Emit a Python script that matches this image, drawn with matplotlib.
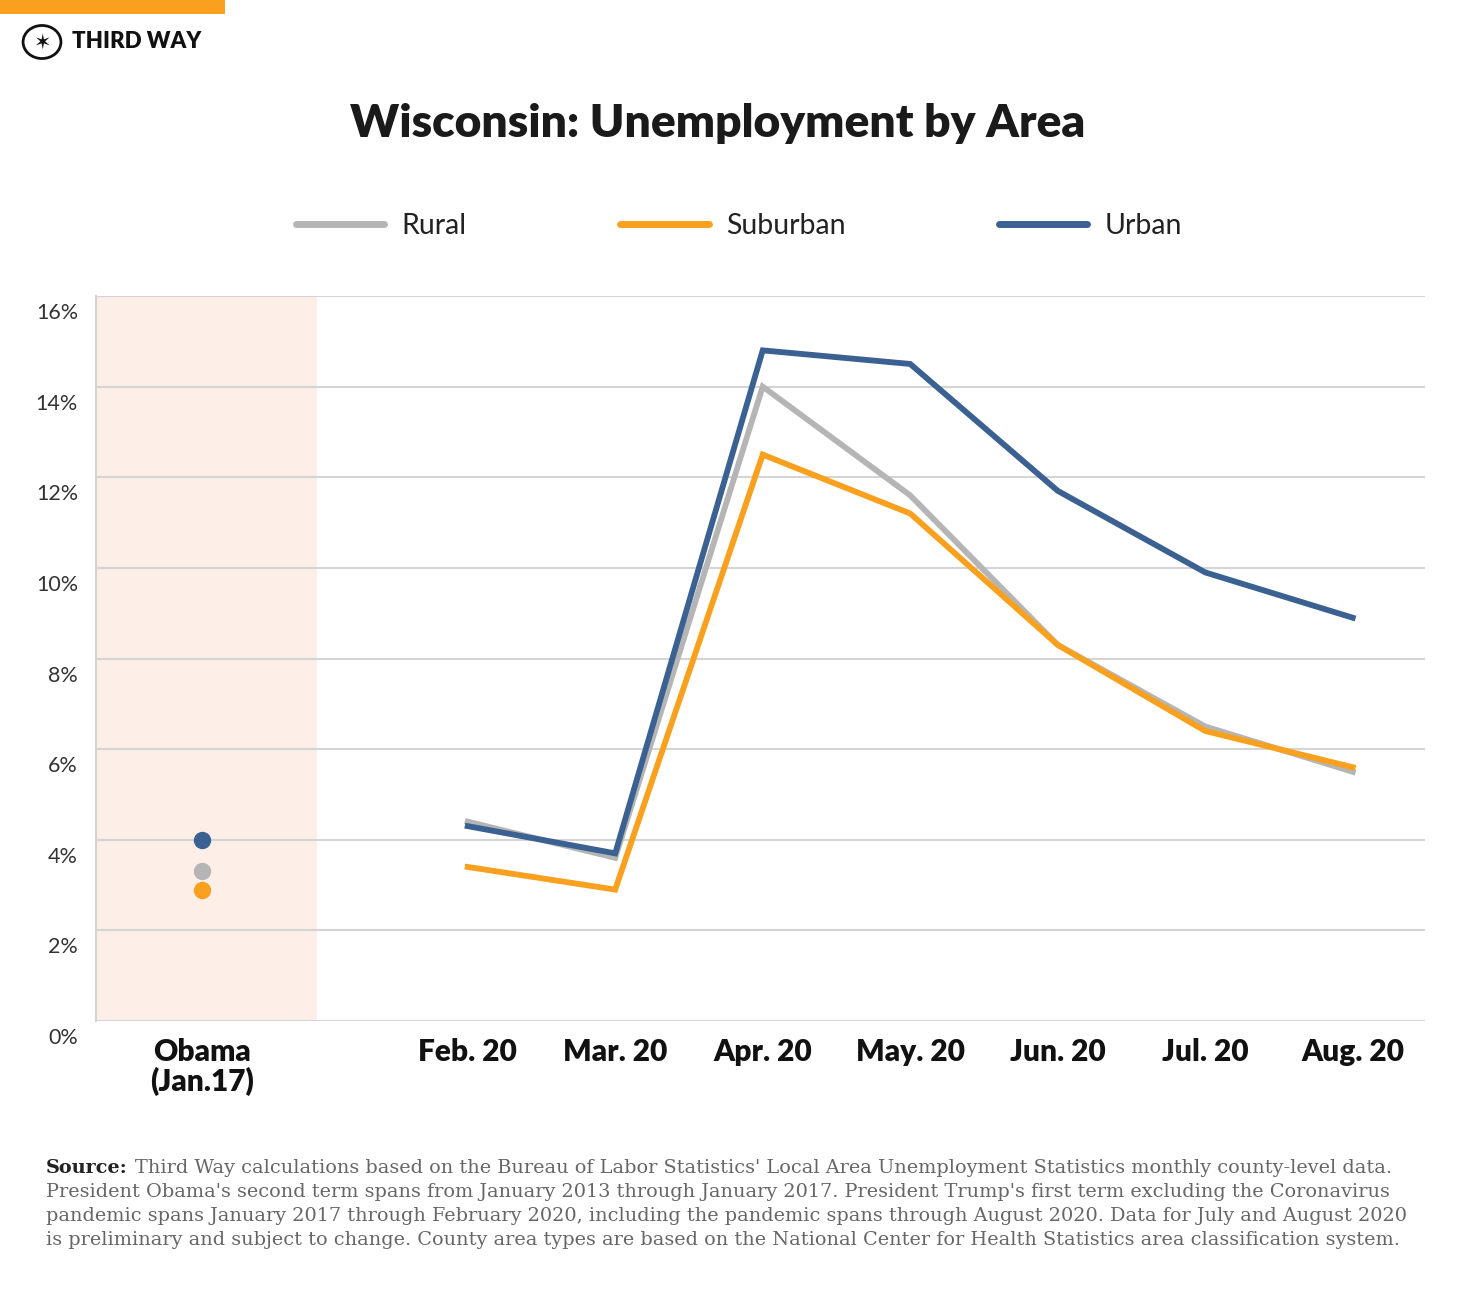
import numpy as np
import matplotlib.pyplot as plt
from matplotlib.patches import Rectangle, Circle
import matplotlib.transforms as mtransforms

# Data
months = ['Feb. 20', 'Mar. 20', 'Apr. 20', 'May. 20', 'Jun. 20', 'Jul. 20', 'Aug. 20']
rural = [4.4, 3.6, 14.0, 11.6, 8.3, 6.5, 5.5]
suburban = [3.4, 2.9, 12.5, 11.2, 8.3, 6.4, 5.6]
urban = [4.3, 3.7, 14.8, 14.5, 11.7, 9.9, 8.9]

obama_label = 'Obama\n(Jan.17)'
obama_rural = 3.3
obama_suburban = 2.9
obama_urban = 4.0

yticks = [0, 2, 4, 6, 8, 10, 12, 14, 16]

c_rural = '#B5B5B5'
c_sub = '#F9A11F'
c_urb = '#3B6192'
c_grid = '#D4D4D4'

fig = plt.figure(figsize=(14.8, 12.91), dpi=100)
ax = fig.add_axes([96 / 1480, 1 - 1021 / 1291, (1425 - 96) / 1480, (1021 - 296) / 1291])

x = np.arange(len(months))
x_obama = -1.8

# shaded Obama band
ax.axvspan(-2.52, -1.02, color='#FDEEE8', zorder=0, lw=0)

for y in yticks:
    ax.axhline(y, color=c_grid, lw=1.5, zorder=1)

lw = 4.2
l1, = ax.plot(x, rural, color=c_rural, lw=lw, label='Rural', zorder=3, solid_joinstyle='miter')
l2, = ax.plot(x, suburban, color=c_sub, lw=lw, label='Suburban', zorder=4, solid_joinstyle='miter')
l3, = ax.plot(x, urban, color=c_urb, lw=lw, label='Urban', zorder=5, solid_joinstyle='miter')

ax.plot([x_obama], [obama_urban], 'o', color=c_urb, ms=11.5, zorder=5)
ax.plot([x_obama], [obama_rural], 'o', color=c_rural, ms=11.5, zorder=5)
ax.plot([x_obama], [obama_suburban], 'o', color=c_sub, ms=11.5, zorder=6)

ax.set_xlim(-2.52, 6.49)
ax.set_ylim(0, 16)

for s in ['top', 'right', 'bottom']:
    ax.spines[s].set_visible(False)
ax.spines['left'].set_color(c_grid)
ax.spines['left'].set_linewidth(1.5)

ax.set_yticks(yticks)
ax.set_yticklabels([f'{v}%' for v in yticks], fontsize=15.5, color='#333333', family='Lato')
ax.tick_params(axis='y', length=0, pad=13)
offset = mtransforms.ScaledTranslation(0, -15 / 100, fig.dpi_scale_trans)
for lab in ax.get_yticklabels():
    lab.set_transform(lab.get_transform() + offset)

ax.set_xticks(list(x) + [x_obama])
ax.set_xticklabels(months + [obama_label], fontsize=21.5, fontweight='heavy', family='Lato',
                   color='#111111', va='top', linespacing=1.05)
ax.tick_params(axis='x', length=0, pad=12)

leg = ax.legend(handles=[l1, l2, l3], loc='center', bbox_to_anchor=(739 / 1480, 1 - 226 / 1291),
                bbox_transform=fig.transFigure, ncol=3, frameon=False, handlelength=3.1,
                handletextpad=0.6, columnspacing=5.4, prop={'family': 'Lato', 'size': 20.5})
for h in leg.legend_handles:
    h.set_linewidth(5)
    h.set_solid_capstyle('round')
for t in leg.get_texts():
    t.set_color('#222222')

fig.text(718 / 1480, 1 - 124 / 1291, 'Wisconsin: Unemployment by Area', ha='center', va='center',
         fontsize=33.3, fontweight='heavy', family='Lato', color='#1a1a1a')

# header branding
fig.patches.append(Rectangle((0, 1 - 14 / 1291), 225 / 1480, 14 / 1291, transform=fig.transFigure,
                             color='#F9A11F', lw=0))
fig.patches.append(Circle((42 / 1480, 1 - 42 / 1291), 0.0128, transform=fig.transFigure,
                          fill=False, ec='#111111', lw=2))
fig.text(42 / 1480, 1 - 43 / 1291, '✶', ha='center', va='center', fontsize=15, color='#111111',
         family='DejaVu Sans')
fig.text(72 / 1480, 1 - 42 / 1291, 'THIRD WAY', ha='left', va='center', fontsize=16,
         fontweight='heavy', family='Lato', color='#111111')

# source note
src_lines = [
    "Third Way calculations based on the Bureau of Labor Statistics' Local Area Unemployment Statistics monthly county-level data.",
    "President Obama's second term spans from January 2013 through January 2017. President Trump's first term excluding the Coronavirus",
    "pandemic spans January 2017 through February 2020, including the pandemic spans through August 2020. Data for July and August 2020",
    "is preliminary and subject to change. County area types are based on the National Center for Health Statistics area classification system.",
]
y0 = 1168
src_font = dict(fontsize=13.85, family='DejaVu Serif')
t0 = fig.text(46 / 1480, 1 - y0 / 1291, 'Source:', ha='left', va='center', fontweight='bold',
              color='#222222', **src_font)
fig.canvas.draw()
bb = t0.get_window_extent()
fig.text((bb.x1 + 7) / 1480, 1 - y0 / 1291, src_lines[0], ha='left', va='center',
         color='#666666', **src_font)
for i, line in enumerate(src_lines[1:], start=1):
    fig.text(46 / 1480, 1 - (y0 + 24 * i) / 1291, line, ha='left', va='center',
             color='#666666', **src_font)

fig.savefig('out.png', dpi=100)
